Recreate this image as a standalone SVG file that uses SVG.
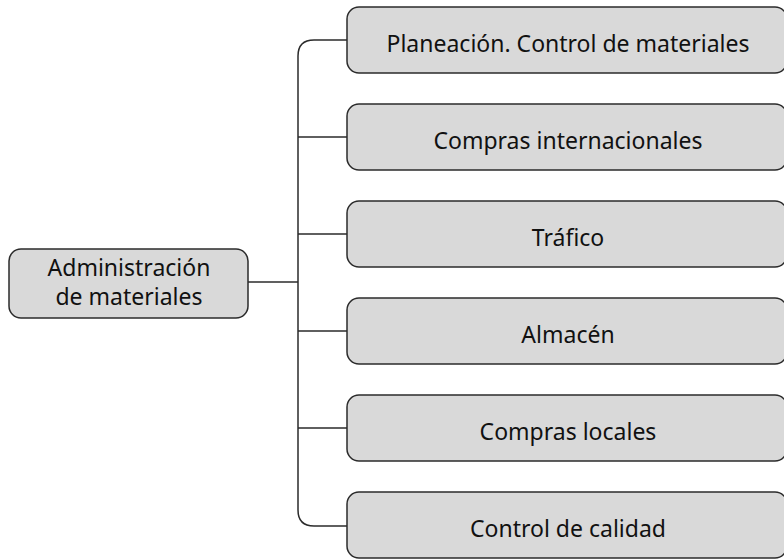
<svg xmlns="http://www.w3.org/2000/svg" width="784" height="559" viewBox="0 0 784 559">
<style>
.box{fill:#d9d9d9;stroke:#2b2b2b;stroke-width:1.5}
.t{font-family:"Noto Sans","Open Sans",sans-serif;font-size:23px;fill:#111;text-anchor:middle}
.c{fill:none;stroke:#2b2b2b;stroke-width:1.5}
</style>
<rect width="784" height="559" fill="#fff"/>
<g id="connectors">
<path class="c" d="M248,282 H298"/>
<path class="c" d="M347,40 H314 Q298,40 298,56 V510 Q298,526 314,526 H347"/>
<path class="c" d="M298,137 H347 M298,234 H347 M298,331 H347 M298,428 H347"/>
</g>
<g id="root"><rect class="box" x="9" y="249" width="239" height="69" rx="12"/><text class="t" x="129" y="276">Administración</text><text class="t" x="129" y="305">de materiales</text></g>
<g id="n1"><rect class="box" x="347" y="7" width="440" height="66" rx="12"/><text class="t" x="568" y="52">Planeación. Control de materiales</text></g>
<g id="n2"><rect class="box" x="347" y="104" width="440" height="66" rx="12"/><text class="t" x="568" y="149">Compras internacionales</text></g>
<g id="n3"><rect class="box" x="347" y="201" width="440" height="66" rx="12"/><text class="t" x="568" y="246">Tráfico</text></g>
<g id="n4"><rect class="box" x="347" y="298" width="440" height="66" rx="12"/><text class="t" x="568" y="343">Almacén</text></g>
<g id="n5"><rect class="box" x="347" y="395" width="440" height="66" rx="12"/><text class="t" x="568" y="440">Compras locales</text></g>
<g id="n6"><rect class="box" x="347" y="492" width="440" height="66" rx="12"/><text class="t" x="568" y="537">Control de calidad</text></g>
</svg>
